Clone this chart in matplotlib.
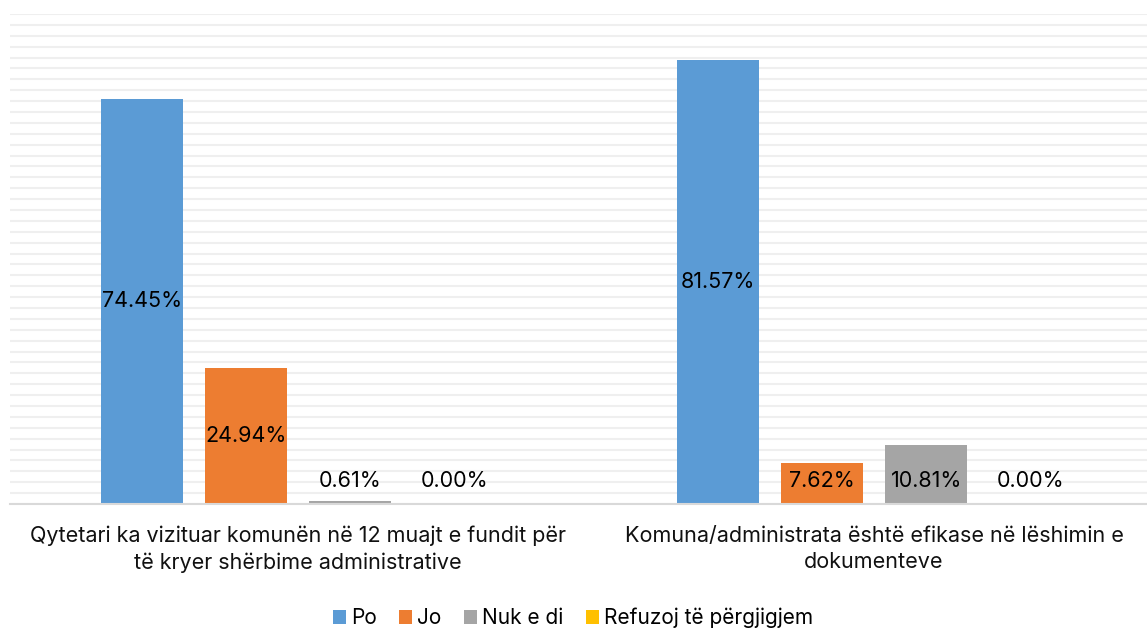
import numpy as np
from matplotlib import pyplot as plt

categories = ["Qytetari ka vizituar komunën në 12 muajt e fundit për\ntë kryer shërbime administrative",
              "Komuna/administrata është efikase në lëshimin e\ndokumenteve"]
series = ["Po", "Jo", "Nuk e di", "Refuzoj të përgjigjem"]
values = [
    [74.45, 81.57],
    [24.94, 7.62],
    [0.61, 10.81],
    [0.00, 0.00],
]
colors = ["#5B9BD5", "#ED7D31", "#A5A5A5", "#FFC000"]

plt.rcParams['font.family'] = ['Inter', 'DejaVu Sans']

fig = plt.figure(figsize=(11.47, 6.3), dpi=100)
ax = fig.add_axes([10 / 1147, 1 - 504 / 630, 1137 / 1147, 490 / 630])

x = np.arange(len(categories))
width = 0.142
pitch = 0.181
for i, (name, vals) in enumerate(zip(series, values)):
    pos = x + (i - 1.5) * pitch
    ax.bar(pos, vals, width, color=colors[i], label=name, zorder=2)
    for p, v in zip(pos, vals):
        y = v / 2 if v / 2 > 6 else 4.2
        ax.text(p, y, f"{v:.2f}%", ha="center", va="center", fontsize=15.5, color="#000000", zorder=3)

ax.set_ylim(0, 90)
ax.set_xlim(-0.5, (1147 - 298) / 576)
ax.set_yticks(np.arange(0, 91, 2))
ax.yaxis.grid(True, color="#EFEFEF", linewidth=1.5, zorder=0)
ax.set_axisbelow(True)
ax.tick_params(left=False, labelleft=False, bottom=False, labelbottom=False)
for s in ["top", "right", "left"]:
    ax.spines[s].set_visible(False)
ax.spines["bottom"].set_color("#D9D9D9")
ax.spines["bottom"].set_linewidth(1.5)

for xi, cat in zip(x, categories):
    ax.text(xi, -4.0, cat, ha="center", va="top", fontsize=15.5, color="#111111",
            linespacing=1.4, transform=ax.transData, clip_on=False)

fig.legend(loc="center", bbox_to_anchor=(573 / 1147, 1 - 618 / 630), ncol=4, frameon=False,
           fontsize=15, handlelength=0.6, handleheight=0.6, handletextpad=0.25, columnspacing=1.1,
           borderaxespad=0)

plt.savefig("out.png", dpi=100)
